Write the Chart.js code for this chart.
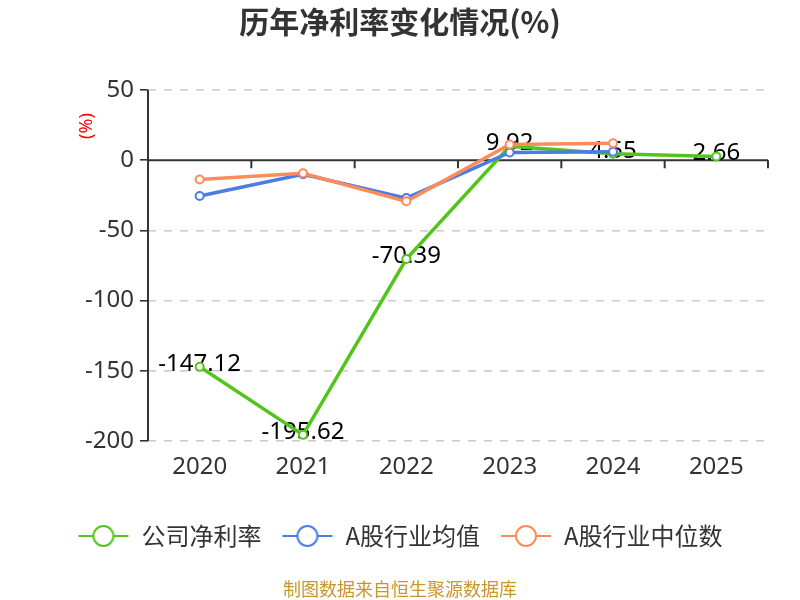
<!DOCTYPE html>
<html>
<head>
<meta charset="utf-8">
<script src="https://cdn.jsdelivr.net/npm/chart.js@4/dist/chart.umd.min.js"></script>
<style>
  body { margin: 0; background: #fff; }
  #wrap { width: 800px; height: 600px; }
</style>
</head>
<body>
<div id="wrap"><canvas id="myChart"></canvas></div>
<script>
const anos = ['2020', '2021', '2022', '2023', '2024', '2025'];
const lucroEmpresa = [-147.12, -195.62, -70.39, 9.92, 4.55, 2.66];
const mediaSetor = [-25.5, -10, -27, 5.5, 6, null];
const medianaSetor = [-13.8, -9.3, -29.3, 11.2, 12.1, null];
const ticksY = [50, 0, -50, -100, -150, -200];

const FONTE = "'Noto Sans', 'Noto Sans CJK SC', sans-serif";
const FONTE_CJK = "'Noto Sans CJK SC', sans-serif";
const cores = ['#52c41a', '#4b7be5', '#fe8c5b'];

// simbolo da legenda: linha com circulo
function simbolo(cor) {
  const c = document.createElement('canvas');
  c.width = 52; c.height = 24;
  const g = c.getContext('2d');
  g.strokeStyle = cor;
  g.lineWidth = 2;
  g.beginPath(); g.moveTo(1, 12); g.lineTo(51, 12); g.stroke();
  g.beginPath(); g.arc(26, 12, 10, 0, Math.PI * 2);
  g.fillStyle = '#fff'; g.fill(); g.stroke();
  return c;
}

const extras = {
  id: 'extras',
  beforeDatasetsDraw(chart) {
    const { ctx, chartArea } = chart;
    const x = chart.scales.x, y = chart.scales.y;
    const y0 = y.getPixelForValue(0);
    const passo = x.getPixelForValue(1) - x.getPixelForValue(0);
    ctx.save();
    ctx.strokeStyle = '#333';
    ctx.lineWidth = 2;
    ctx.beginPath();
    // eixo y
    ctx.moveTo(chartArea.left, chartArea.top);
    ctx.lineTo(chartArea.left, chartArea.bottom);
    // linha do zero com marcas
    ctx.moveTo(chartArea.left, y0);
    ctx.lineTo(chartArea.right, y0);
    for (let i = 0; i < anos.length; i++) {
      const px = x.getPixelForValue(i) + passo / 2;
      ctx.moveTo(px, y0);
      ctx.lineTo(px, y0 + 8);
    }
    ctx.stroke();
    // rotulos da serie da empresa
    ctx.fillStyle = '#000';
    ctx.font = '24px ' + FONTE;
    ctx.textAlign = 'center';
    ctx.textBaseline = 'middle';
    lucroEmpresa.forEach((v, i) => {
      ctx.fillText(v.toFixed(2), x.getPixelForValue(i), y.getPixelForValue(v) - 3);
    });
    ctx.restore();
  },
  afterDraw(chart) {
    const { ctx } = chart;
    ctx.save();
    ctx.fillStyle = '#ff0000';
    ctx.font = '18px ' + FONTE;
    ctx.textAlign = 'center';
    ctx.textBaseline = 'middle';
    ctx.translate(87, 126);
    ctx.rotate(-Math.PI / 2);
    ctx.fillText('(%)', 0, 0);
    ctx.restore();
    ctx.save();
    ctx.fillStyle = '#c9962b';
    ctx.font = '18px ' + FONTE_CJK;
    ctx.textAlign = 'center';
    ctx.textBaseline = 'middle';
    ctx.fillText('制图数据来自恒生聚源数据库', 400, 589);
    ctx.restore();
  }
};

function serie(label, dados, cor, ordem) {
  return {
    label: label,
    data: dados,
    borderColor: cor,
    backgroundColor: '#fff',
    borderWidth: 3.5,
    pointRadius: 4,
    pointBorderWidth: 2,
    pointBackgroundColor: '#fff',
    pointBorderColor: cor,
    order: ordem
  };
}

new Chart(document.getElementById('myChart'), {
  type: 'line',
  data: {
    labels: anos,
    datasets: [
      serie('公司净利率', lucroEmpresa, cores[0], 3),
      serie('A股行业均值', mediaSetor, cores[1], 2),
      serie('A股行业中位数', medianaSetor, cores[2], 1)
    ]
  },
  options: {
    responsive: true,
    maintainAspectRatio: false,
    animation: false,
    layout: { padding: { left: 16, right: 16, top: 0, bottom: 42 } },
    plugins: {
      title: {
        display: true,
        text: '历年净利率变化情况(%)',
        color: '#333',
        font: { size: 30, weight: 'bold', family: FONTE_CJK },
        padding: { top: 4, bottom: 50 }
      },
      legend: {
        position: 'bottom',
        labels: {
          color: '#333',
          font: { size: 24, family: FONTE_CJK },
          usePointStyle: true,
          pointStyleWidth: 52,
          padding: 20,
          generateLabels(chart) {
            return chart.data.datasets.map((ds, i) => ({
              text: ds.label,
              fontColor: '#333',
              pointStyle: simbolo(cores[i]),
              datasetIndex: i,
              hidden: false,
              lineWidth: 0
            }));
          }
        }
      },
      tooltip: { enabled: false }
    },
    scales: {
      x: {
        offset: true,
        grid: { display: false, drawTicks: false },
        border: { display: false },
        ticks: { color: '#333', font: { size: 24, family: FONTE }, padding: 12 },
        afterFit(axis) { axis.height = 63; }
      },
      y: {
        min: -200,
        max: 50,
        afterBuildTicks(axis) { axis.ticks = ticksY.map(v => ({ value: v })); },
        afterFit(axis) { axis.width = 132; },
        grid: {
          color: ctx => (ctx.tick && ctx.tick.value === 0 ? 'rgba(0,0,0,0)' : '#cccccc'),
          tickColor: '#333',
          tickLength: 8,
          lineWidth: 1.6
        },
        border: { display: false, dash: [8, 8] },
        ticks: { color: '#333', font: { size: 24, family: FONTE }, padding: 6 }
      },
      margemDireita: {
        position: 'right',
        grid: { display: false, drawTicks: false },
        border: { display: false },
        ticks: { display: false },
        afterFit(axis) { axis.width = 16; }
      }
    }
  },
  plugins: [extras]
});
</script>
</body>
</html>
